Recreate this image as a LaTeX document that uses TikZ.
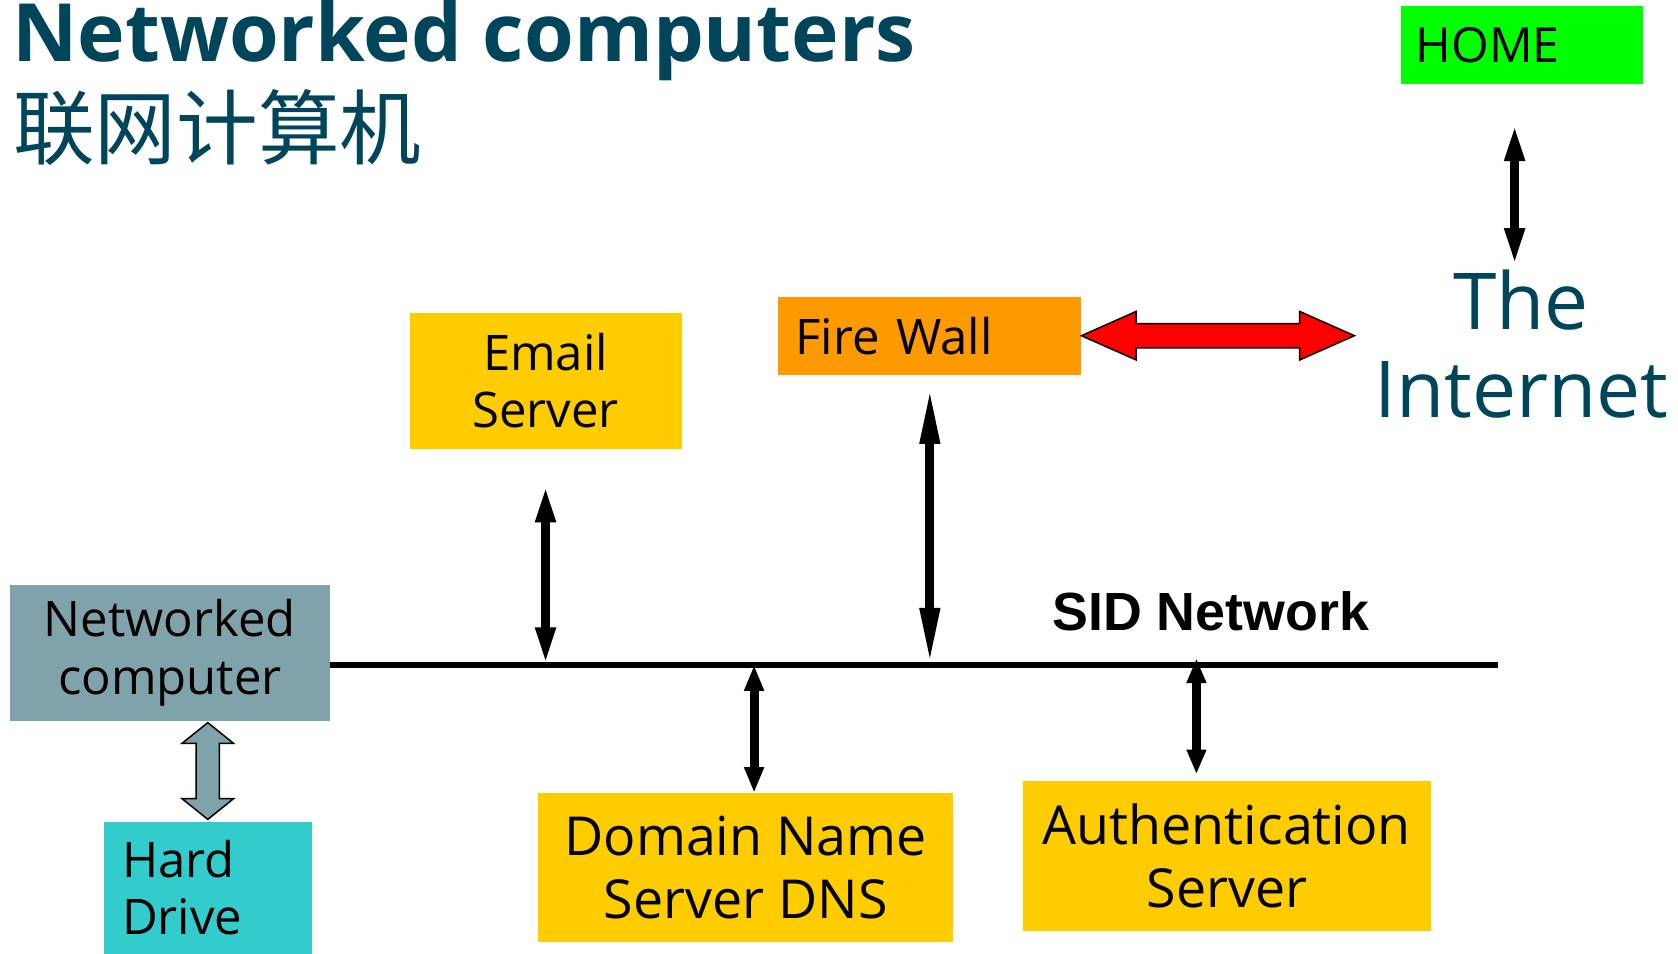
\documentclass[tikz,border=0pt]{standalone}
\usepackage{fontspec}
\setmainfont{Open Sans}
\newfontfamily\arialfont{Liberation Sans}
\newfontfamily\cjk{Noto Sans CJK SC}
\usetikzlibrary{arrows.meta,calc}
\definecolor{titleteal}{HTML}{00455A}
\definecolor{homegreen}{HTML}{00FF00}
\definecolor{fworange}{HTML}{FF9900}
\definecolor{srvyellow}{HTML}{FFCC00}
\definecolor{pcgray}{HTML}{80A2AB}
\definecolor{hdcyan}{HTML}{33CCCC}

\begin{document}
\begin{tikzpicture}[x=1pt,y=-1pt,
                    box/.style={inner sep=0pt,outer sep=0pt,align=center},
                    txt/.style={font=\fontsize{45.6}{53.4}\selectfont},
                    bigtxt/.style={font=\fontsize{50}{59}\selectfont},
                    dblarrow/.style={line width=8.4pt,{Triangle[length=#1,width=17pt]}-{Triangle[length=#1,width=17pt]}},
                    lan/.style={line width=5.6pt},
                    blockarrow/.style={draw=black,line width=1.4pt,line join=miter}]
    \useasboundingbox (0,0) rectangle (1561,887.4);
    \node (title) at (11.5,57.4) [anchor=base west,inner sep=0pt,text=titleteal,
                                  font=\fontsize{74.8}{80}\selectfont\bfseries] {Networked computers};
    \node (subtitle) at (12,147) [anchor=base west,inner sep=0pt,text=titleteal,
                                  font=\fontsize{76}{80}\selectfont\cjk] {联网计算机};
    \node (home) at (1416,42) [box,fill=homegreen,minimum height=72pt,inner xsep=13.5pt,
                               text width=198pt,align=left,font=\fontsize{45}{53}\selectfont] {HOME};
    \node (inet) at (1415,320.25) [box,text=titleteal,font=\fontsize{73}{82}\selectfont] {The\\Internet};
    \node (fw) at (865,312.3) [box,txt,fill=fworange,minimum height=72.6pt,inner xsep=16pt,
                               text width=250pt,align=left] {Fire Wall};
    \node (email) at (507.5,354.3) [box,txt,fill=srvyellow,minimum width=253pt,
                                    minimum height=126.5pt] {Email\\Server};
    \node (netpc) at (158,607.4) [box,txt,fill=pcgray,minimum width=297.3pt,
                                  minimum height=126.7pt] {Networked\\computer};
    \node (hd) at (193.3,826) [box,txt,fill=hdcyan,minimum height=122.8pt,inner xsep=17pt,
                               text width=159.4pt,align=left] {Hard\\Drive};
    \node (dns) at (693.75,806.85) [box,bigtxt,fill=srvyellow,minimum width=386.5pt,
                                    minimum height=138.3pt] {Domain Name\\Server DNS};
    \node (auth) at (1141.3,796.4) [box,bigtxt,fill=srvyellow,minimum width=379.4pt,
                                    minimum height=138.8pt] {Authentication\\Server};
    \node (sid) at (978.8,586.7) [anchor=base west,inner sep=0pt,
                                  font=\fontsize{50}{56}\selectfont\arialfont\bfseries] {SID Network};
    \coordinate (lanE) at (1393.8,618.6);
    \coordinate (netR) at (1260,312.3);
    \draw [lan] (netpc.east |- lanE) to (lanE);
    \draw [dblarrow=35pt] ($(home.south)+(-7,37)$) to ($(home.south |- inet.north)+(-7,-4)$);
    \draw [dblarrow=35pt,shorten <=33.5pt] (email.south) to (email.south |- lanE);
    \draw [dblarrow=53pt,shorten <=11.4pt] (fw.south) to (fw.south |- lanE);
    \draw [dblarrow=24pt] ($(dns.north |- lanE)+(7.75,0)$) to ($(dns.north)+(7.75,0)$);
    \draw [dblarrow=23pt,shorten <=-6.2pt,shorten >=6.7pt] ($(auth.north |- lanE)+(-28.3,0)$)
                                                           to ($(auth.north)+(-28.3,0)$);
    \draw [blockarrow,fill=red] (fw.east) -- ++(51,-22.6) -- ++(0,11.3) -- ++(152,0) -- ++(0,-11.3)
          -- (netR) -- ++(-51,22.6) -- ++(0,-11.3) -- ++(-152,0) -- ++(0,11.3) -- cycle;
    \draw [blockarrow,fill=pcgray] ($(hd.north |- netpc.south)+(0,1.5)$) -- ++(24,19.3) -- ++(-13.2,0)
          -- ++(0,51.4) -- ++(13.2,0) -- ++(-24,19.3) -- ++(-24,-19.3) -- ++(13.2,0) -- ++(0,-51.4)
          -- ++(-13.2,0) -- cycle;
\end{tikzpicture}
\end{document}
